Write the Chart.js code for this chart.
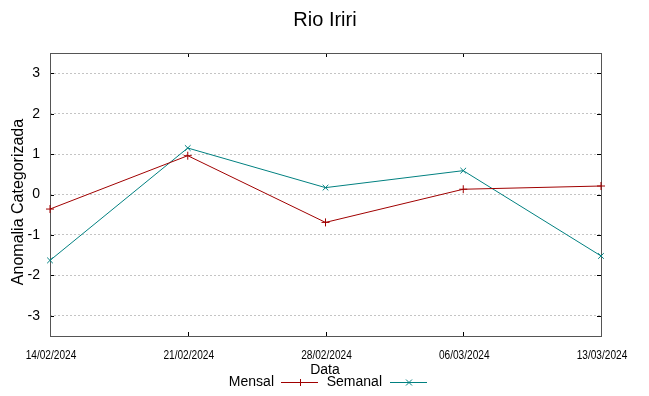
<!DOCTYPE html>
<html><head><meta charset="utf-8">
<script src="https://cdn.jsdelivr.net/npm/chart.js@4"></script>
<style>html,body{margin:0;padding:0;background:#fff}#c{display:block}</style>
</head><body>
<div style="width:649px;height:396px"><canvas id="c" width="649" height="396"></canvas></div>
<script>
const categories = ["14/02/2024","21/02/2024","28/02/2024","06/03/2024","13/03/2024"];
const mensal = [-0.36, 0.96, -0.69, 0.13, 0.21];
const semanal = [-1.63, 1.15, 0.17, 0.59, -1.52];
const yTicks = [-3,-2,-1,0,1,2,3];
const titleText = "Rio Iriri";
const yTitle = "Anomalia Categorizada";
const xTitle = "Data";
const seriesNames = ["Mensal","Semanal"];
const colors = ["#a00000","#008080"];

const deco = {
  id:'deco',
  beforeDatasetsDraw(chart){
    const {ctx, chartArea:a, scales:{x,y}} = chart;
    ctx.save();
    ctx.strokeStyle='#000'; ctx.lineWidth=1;
    ctx.beginPath();
    yTicks.forEach(v=>{const py=Math.round(y.getPixelForValue(v))+0.5;
      ctx.moveTo(a.left,py);ctx.lineTo(a.left+4,py);
      ctx.moveTo(a.right,py);ctx.lineTo(a.right-4,py);});
    categories.forEach((c,i)=>{const px=Math.round(x.getPixelForValue(i))+0.5;
      ctx.moveTo(px,a.bottom);ctx.lineTo(px,a.bottom-4);
      ctx.moveTo(px,a.top);ctx.lineTo(px,a.top+4);});
    ctx.stroke();
    ctx.strokeStyle='#555';ctx.lineWidth=1;
    ctx.strokeRect(Math.round(a.left)+0.5,Math.round(a.top)+0.5,Math.round(a.right-a.left),Math.round(a.bottom-a.top));
    ctx.fillStyle='#000';ctx.textAlign='center';ctx.textBaseline='middle';
    ctx.font='12.5px "Liberation Sans", Arial, sans-serif';
    categories.forEach((c,i)=>{const px=x.getPixelForValue(i);
      ctx.save();ctx.translate(px+1,356);ctx.scale(0.81,1);ctx.fillText(c,0,0);ctx.restore();});
    ctx.restore();
  },
  afterDraw(chart){
    const {ctx} = chart;
    ctx.save();
    ctx.fillStyle='#000';
    ctx.textAlign='center';ctx.textBaseline='middle';
    ctx.font='20px "Liberation Sans", Arial, sans-serif';
    ctx.fillText(titleText,325,20);
    ctx.font='14px "Liberation Sans", Arial, sans-serif';
    ctx.fillText(xTitle,325,370);
    ctx.save();ctx.translate(19,202);ctx.rotate(-Math.PI/2);
    ctx.font='16px "Liberation Sans", Arial, sans-serif';ctx.fillText(yTitle,0,0);ctx.restore();
    ctx.textAlign='right';
    ctx.fillText(seriesNames[0],274,382);
    ctx.fillText(seriesNames[1],382,382);
    const drawSample=(x0,x1,col,plus)=>{
      ctx.strokeStyle=col;ctx.lineWidth=1;ctx.beginPath();
      ctx.moveTo(x0,382.5);ctx.lineTo(x1,382.5);
      const cx=Math.round((x0+x1)/2);
      if(plus){ctx.moveTo(cx+0.5,379);ctx.lineTo(cx+0.5,386);}
      else{ctx.moveTo(cx-3,379.5);ctx.lineTo(cx+3,385.5);ctx.moveTo(cx+3,379.5);ctx.lineTo(cx-3,385.5);}
      ctx.stroke();};
    drawSample(281,318,colors[0],true);
    drawSample(390,427,colors[1],false);
    ctx.restore();
  }
};

new Chart(document.getElementById('c'),{
  type:'line',
  data:{labels:categories,datasets:[
    {label:seriesNames[0],data:mensal,borderColor:colors[0],backgroundColor:colors[0],borderWidth:1,pointStyle:'cross',pointRadius:4,pointBorderWidth:1,tension:0},
    {label:seriesNames[1],data:semanal,borderColor:colors[1],backgroundColor:colors[1],borderWidth:1,pointStyle:'crossRot',pointRadius:4,pointBorderWidth:1,tension:0}
  ]},
  plugins:[deco],
  options:{
    responsive:false,animation:false,
    layout:{padding:{left:0,right:48,top:53,bottom:0}},
    plugins:{legend:{display:false},title:{display:false},tooltip:{enabled:false}},
    scales:{
      x:{type:'category',offset:false,
        grid:{display:false,drawTicks:false},border:{display:false},
        ticks:{display:false},
        afterFit(s){s.height=60;}},
      y:{min:-3.5,max:3.5,
        afterBuildTicks(s){s.ticks=yTicks.map(v=>({value:v}));},
        grid:{color:'#c4c4c4',lineWidth:1,drawTicks:false},
        border:{display:false,dash:[2,2]},
        ticks:{color:'#000',padding:10,font:{family:'"Liberation Sans", Arial, sans-serif',size:14}},
        afterFit(s){s.width=50;}}
    }
  }
});
</script>
</body></html>
